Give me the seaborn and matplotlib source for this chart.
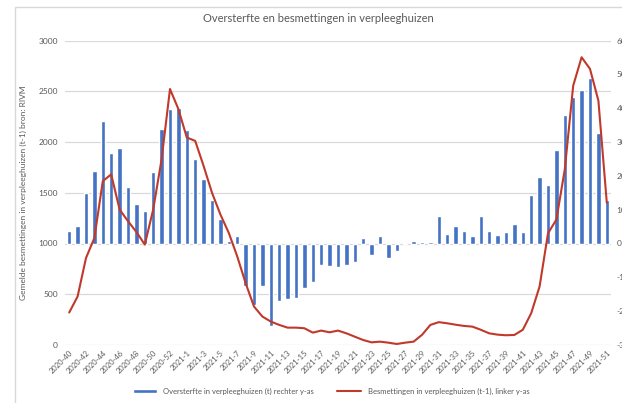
import numpy as np
import pandas as pd
import matplotlib
matplotlib.use("Agg")
import matplotlib.pyplot as plt
import seaborn as sns
from matplotlib.patches import Patch, Rectangle
from matplotlib.lines import Line2D

# week labels (2020 has 53 weeks)
weeks = [f"2020-{w}" for w in range(40, 54)] + [f"2021-{w}" for w in range(1, 52)]

# oversterfte in verpleeghuizen (t), right axis
oversterfte = [38, 53, 150, 213, 363, 268, 282, 168, 116, 95,
               212, 339, 398, 401, 335, 249, 192, 130, 73, 7,
               23, -125, -182, -125, -244, -170, -164, -160, -132, -114,
               -63, -66, -68, -63, -55, 16, -33, 23, -44, -22,
               2, 8, 5, 5, 81, 29, 53, 38, 23, 80,
               37, 26, 34, 58, 33, 142, 197, 172, 275, 380,
               432, 453, 488, 328, 128]

# besmettingen in verpleeghuizen (t-1), left axis
besmettingen = [320, 478, 857, 1055, 1615, 1681, 1335, 1220, 1114, 989,
                1335, 1830, 2522, 2324, 2044, 2011, 1764, 1500, 1286, 1104,
                874, 610, 379, 280, 231, 198, 171, 171, 165, 122,
                142, 125, 142, 115, 82, 49, 26, 33, 23, 10,
                23, 33, 100, 198, 225, 214, 200, 188, 181, 150,
                115, 102, 96, 99, 150, 313, 577, 1100, 1236, 1731,
                2555, 2835, 2720, 2407, 1401]

left_ticks = [0, 500, 1000, 1500, 2000, 2500, 3000]
right_ticks = [-300, -200, -100, 0, 100, 200, 300, 400, 500, 600]

df = pd.DataFrame({"week": weeks, "oversterfte": oversterfte, "besmettingen": besmettingen})

BLUE = "#4472c4"
RED = "#c0392b"
GRAY = "#595959"
GRID = "#d9d9d9"

sns.set_style("white")
plt.rcParams["font.family"] = ["Lato", "DejaVu Sans"]

fig = plt.figure(figsize=(6.22, 4.03), dpi=100)
ax = fig.add_axes([65 / 622, 1 - 345 / 403, 546 / 622, (345 - 40.5) / 403])
ax2 = ax.twinx()

# chart frame (Excel style), runs off the right and bottom edge like the source
fig.patches.append(Rectangle((15 / 622, -0.1), 1.0, 1 - 7 / 403 + 0.1, transform=fig.transFigure,
                             fill=False, edgecolor=GRID, linewidth=1))

# bars on right axis, drawn below the line axis
sns.barplot(data=df, x="week", y="oversterfte", color=BLUE, saturation=1,
            width=0.52, ax=ax2, zorder=2)
ax2.set_ylim(-300, 600)
ax2.set_yticks(right_ticks)
ax2.set_yticklabels([str(t) for t in right_ticks])
ax2.tick_params(axis="y", length=0, pad=4, labelsize=6, labelcolor=GRAY)
ax2.set_ylabel("")
ax2.set_xlabel("")

# gridlines belong to the left axis ticks
for t in left_ticks:
    ax2.axhline((t - 1000) * 0.3, color=GRID, linewidth=0.9, zorder=0)

# line on left axis
sns.lineplot(x=np.arange(len(weeks)), y=df["besmettingen"], color=RED, linewidth=1.5, ax=ax)
ax.set_zorder(ax2.get_zorder() + 1)
ax.patch.set_visible(False)
ax.set_ylim(0, 3000)
ax.set_yticks(left_ticks)
ax.set_yticklabels([str(t) for t in left_ticks])
ax.tick_params(axis="y", length=0, pad=5, labelsize=6, labelcolor=GRAY)
ax.set_ylabel("Gemelde besmettingen in verpleeghuizen (t-1) bron: RIVM",
              fontsize=6, color=GRAY, labelpad=8)
ax.set_xlabel("")

ax.set_xlim(-0.5, len(weeks) - 0.5)
ax.set_xticks(range(0, len(weeks), 2))
ax.set_xticklabels(weeks[::2], rotation=45, ha="right", rotation_mode="anchor",
                   fontsize=5.5, color=GRAY)
ax.tick_params(axis="x", length=0, pad=3)
ax2.tick_params(axis="x", bottom=False, labelbottom=False, top=False, labeltop=False)

for a in (ax, ax2):
    for s in a.spines.values():
        s.set_visible(False)
    a.grid(False)

fig.text(318 / 622, 1 - 18 / 403, "Oversterfte en besmettingen in verpleeghuizen",
         ha="center", va="center", fontsize=8, color=GRAY)

handles = [Patch(facecolor=BLUE), Line2D([0], [0], color=RED, linewidth=1.5)]
labels = ["Oversterfte in verpleeghuizen (t) rechter y-as",
          "Besmettingen in verpleeghuizen (t-1), linker y-as"]
fig.legend(handles, labels, loc="center", bbox_to_anchor=(331 / 622, 1 - 391 / 403),
           ncol=2, frameon=False, fontsize=5.5, handlelength=3.2, handleheight=0.5,
           columnspacing=3, labelcolor=GRAY)

fig.savefig("out.png", dpi=100)
